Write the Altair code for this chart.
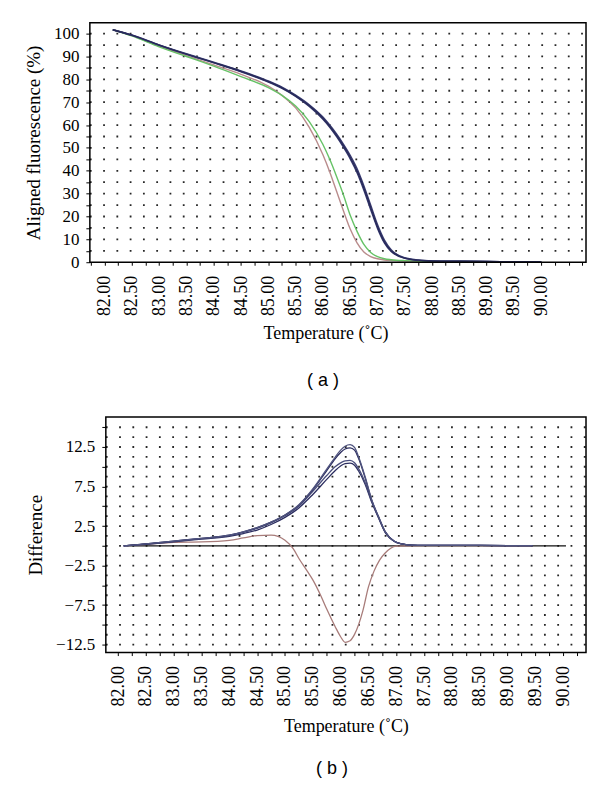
import altair as alt
import pandas as pd

SERIF = "Liberation Serif"
SANS = "Liberation Sans"

# ---------------- Panel (a): aligned melting curves ----------------
temp_a = [82.15, 82.5, 83.0, 83.5, 84.0, 84.5, 85.0, 85.25, 85.5, 85.75, 86.0,
          86.125, 86.25, 86.375, 86.5, 86.625, 86.75, 86.875, 87.0, 87.125,
          87.25, 87.5, 87.75, 88.0, 88.5, 89.0, 89.5, 90.0]

pink_a = [101.7, 99.1, 94.5, 90.3, 86.3, 82.2, 77.0, 73.0, 67.5, 59.0, 47.0,
          39.5, 31.0, 22.5, 14.5, 8.5, 4.5, 2.5, 1.5, 1.0,
          0.8, 0.6, 0.5, 0.4, 0.3, 0.25, 0.2, 0.1]
green_a = [101.7, 99.0, 94.2, 90.0, 85.8, 81.2, 76.4, 73.0, 68.3, 61.5, 51.5,
           45.0, 37.5, 29.5, 20.5, 13.5, 7.8, 4.3, 2.4, 1.5,
           1.1, 0.7, 0.5, 0.4, 0.3, 0.25, 0.2, 0.1]
navy_a1 = [101.7, 99.3, 95.0, 91.0, 87.3, 83.5, 79.0, 76.3, 72.8, 68.5, 63.0,
           59.5, 55.5, 51.0, 46.0, 40.0, 32.5, 24.0, 15.5, 9.0,
           5.0, 1.8, 0.9, 0.6, 0.4, 0.3, 0.2, 0.1]
navy_a2 = [101.7, 99.4, 95.1, 91.2, 87.5, 83.7, 79.3, 76.6, 73.1, 68.9, 63.5,
           60.0, 56.1, 51.7, 46.8, 41.0, 33.5, 25.0, 16.5, 9.8,
           5.5, 2.0, 1.0, 0.6, 0.4, 0.3, 0.2, 0.1]
navy_a3 = [101.7, 99.2, 94.9, 90.9, 87.2, 83.3, 78.8, 76.0, 72.5, 68.1, 62.5,
           59.0, 54.9, 50.3, 45.2, 39.1, 31.5, 23.0, 14.8, 8.5,
           4.7, 1.7, 0.8, 0.5, 0.4, 0.3, 0.2, 0.1]

series_a = [("a1_pink", pink_a), ("a2_green", green_a), ("a3_navy", navy_a3),
            ("a4_navy", navy_a2), ("a5_navy", navy_a1)]
colors_a = ["#b98c8c", "#66c266", "#34376e", "#3b3e74", "#282a5a"]

rows_a = []
for name, vals in series_a:
    for t, v in zip(temp_a, vals):
        rows_a.append({"T": t, "v": v, "s": name})
df_a = pd.DataFrame(rows_a)

# ---------------- Panel (b): difference curves ----------------
temp_b = [82.1, 82.5, 83.0, 83.5, 84.0, 84.25, 84.5, 84.75, 85.0, 85.25, 85.5,
          85.75, 85.9, 86.0, 86.08, 86.17, 86.25, 86.32, 86.44, 86.56, 86.68,
          86.8, 86.97, 87.1, 87.27, 87.5, 88.0, 88.5, 89.0, 89.45]

navy_b1 = [0.0, 0.25, 0.6, 0.95, 1.35, 1.75, 2.3, 3.0, 3.9, 5.2, 7.2,
           9.7, 11.2, 12.1, 12.6, 12.8, 12.45, 11.3, 8.75, 5.8, 3.7,
           1.8, 0.55, 0.25, 0.1, 0.05, 0.05, 0.05, 0.03, 0.02]
navy_b2 = [0.0, 0.25, 0.6, 0.95, 1.35, 1.75, 2.3, 3.0, 3.9, 5.15, 7.1,
           9.5, 11.0, 11.8, 12.25, 12.4, 12.1, 11.1, 8.6, 5.75, 3.7,
           1.8, 0.55, 0.25, 0.1, 0.05, 0.05, 0.05, 0.03, 0.02]
navy_b3 = [0.0, 0.22, 0.55, 0.9, 1.3, 1.7, 2.2, 2.9, 3.8, 5.0, 6.9,
           8.9, 10.0, 10.5, 10.75, 10.8, 10.5, 9.8, 8.0, 5.6, 3.6,
           1.75, 0.55, 0.25, 0.1, 0.05, 0.05, 0.05, 0.03, 0.02]
navy_b4 = [0.0, 0.2, 0.5, 0.85, 1.2, 1.55, 2.0, 2.7, 3.6, 4.8, 6.5,
           8.4, 9.5, 10.1, 10.4, 10.45, 10.2, 9.5, 7.8, 5.5, 3.55,
           1.7, 0.55, 0.25, 0.1, 0.05, 0.05, 0.05, 0.03, 0.02]

temp_brown = [82.1, 82.5, 83.0, 83.5, 84.0, 84.25, 84.5, 84.75, 85.0, 85.15,
              85.25, 85.4, 85.5, 85.65, 85.75, 85.9, 86.0, 86.08, 86.17, 86.25,
              86.4, 86.5, 86.6, 86.7, 86.8, 86.9, 87.0, 87.25, 87.5, 88.0,
              88.5, 89.0, 89.45]
brown_b = [0.0, 0.2, 0.45, 0.5, 0.7, 1.0, 1.3, 1.35, 0.7, -0.4,
           -1.6, -3.2, -4.3, -6.4, -8.0, -10.2, -11.5, -12.2, -12.0, -11.2,
           -8.2, -5.2, -3.2, -1.8, -0.9, -0.3, -0.05, 0.0, 0.02, 0.02,
           0.02, 0.01, 0.0]

temp_base = [82.15, 90.05]
base_b = [0.0, 0.0]

series_b = [("b1_base", temp_base, base_b), ("b2_brown", temp_brown, brown_b),
            ("b3_navy", temp_b, navy_b4), ("b4_navy", temp_b, navy_b3),
            ("b5_navy", temp_b, navy_b2), ("b6_navy", temp_b, navy_b1)]
colors_b = ["#111111", "#a87c7a", "#2c2e60", "#4a4e7c", "#2a2c5e", "#50547f"]

rows_b = []
for name, ts, vals in series_b:
    for t, v in zip(ts, vals):
        rows_b.append({"T": t, "v": v, "s": name})
df_b = pd.DataFrame(rows_b)

# ---------------- ticks / grid values ----------------
ticks_xa = [81.75 + 0.25 * i for i in range(37)]
ticks_xb = [82.0 + 0.25 * i for i in range(34)]
ticks_ya = [5 * i for i in range(21)]
ticks_yb = [-12.5 + 2.5 * i for i in range(12)]
grid_ya = pd.DataFrame({"g": [5 * i for i in range(1, 21)]})
grid_yb = pd.DataFrame({"g": [-12.5 + 1.25 * i for i in range(23)]})
one = pd.DataFrame({"k": [0]})

DOM_XA = [81.73, 90.82]
DOM_YA = [0, 104.8]
DOM_XB = [81.78, 90.41]
DOM_YB = [-13.5, 16.3]

# panel geometry (pixels inside the whole layered view)
W = 497
HA = 240
B_TOP, B_BOT, B_LEFT = 395, 631, 16
H = B_BOT

xa_scale = alt.Scale(domain=DOM_XA, range=[0, W], nice=False, zero=False)
ya_scale = alt.Scale(domain=DOM_YA, range=[HA, 0], nice=False, zero=False)
xb_scale = alt.Scale(domain=DOM_XB, range=[B_LEFT, W], nice=False, zero=False)
yb_scale = alt.Scale(domain=DOM_YB, range=[B_BOT, B_TOP], nice=False, zero=False)

x_label_expr = ("(abs(datum.value * 2 - round(datum.value * 2)) < 0.001 && "
                "datum.value > 81.9 && datum.value < 90.01) ? format(datum.value, '.2f') : ''")

GRID_DASH = [1.8, 11.5]


def x_axis(values, offset, title_pad, title_x=None):
    kw = dict(values=values, orient="bottom", offset=offset, labelExpr=x_label_expr,
              labelAngle=-90, labelFont=SERIF, labelFontSize=18, labelColor="black",
              labelPadding=10, labelOverlap=False, labelFlush=False,
              tickColor="black", tickSize=3, domain=False, grid=False,
              title="Temperature (˚C)", titleFont=SERIF, titleFontSize=18,
              titleFontWeight="normal", titleColor="black", titlePadding=title_pad)
    if title_x is not None:
        kw["titleX"] = title_x
    return alt.Axis(**kw)


def y_axis(values, label_expr, title, offset):
    return alt.Axis(values=values, orient="left", offset=offset, labelExpr=label_expr,
                    labelFont=SERIF, labelFontSize=17, labelColor="black",
                    labelPadding=7, labelOverlap=False, labelFlush=False,
                    tickColor="black", tickSize=4, domain=False, grid=False,
                    title=title, titleFont=SERIF, titleFontSize=19,
                    titleFontWeight="normal", titleColor="black", titlePadding=10)


AXA = x_axis(ticks_xa, HA - H, 9, 236)
AYA = y_axis(ticks_ya, "datum.value % 10 == 0 ? datum.label : ''",
             "Aligned fluorescence (%)", 0)
AXB = x_axis(ticks_xb, 0, 12)
AYB = y_axis(ticks_yb, "abs(datum.value % 5) == 2.5 ? format(datum.value, '.1f') : ''",
             "Difference", -B_LEFT)

# ----- panel (a) layers -----
grid_a = alt.Chart(grid_ya).mark_rule(color="black", strokeWidth=1.8, strokeDash=GRID_DASH,
                                      opacity=0.85).encode(
    y=alt.Y("g:Q", scale=ya_scale, axis=AYA),
    x=alt.datum(DOM_XA[0], scale=xa_scale, axis=AXA), x2=alt.datum(DOM_XA[1]),
)
lines_a = alt.Chart(df_a).mark_line(strokeWidth=1.4, interpolate="monotone").encode(
    x=alt.X("T:Q", scale=xa_scale, axis=AXA),
    y=alt.Y("v:Q", scale=ya_scale, axis=AYA),
    color=alt.Color("s:N", scale=alt.Scale(domain=[s[0] for s in series_a], range=colors_a),
                    legend=None),
    order=alt.Order("T:Q"),
)
frame_a = alt.Chart(one).mark_rect(fillOpacity=0, stroke="black", strokeWidth=1.5).encode(
    x=alt.datum(DOM_XA[0], scale=xa_scale, axis=AXA), x2=alt.datum(DOM_XA[1]),
    y=alt.datum(DOM_YA[0], scale=ya_scale, axis=AYA), y2=alt.datum(DOM_YA[1]),
)
caption_a = alt.Chart(one).mark_text(text="( a )", font=SANS, fontSize=18, color="black").encode(
    x=alt.datum(86.0, scale=xa_scale, axis=AXA), y=alt.datum(-52, scale=ya_scale, axis=AYA),
)
panel_a = alt.layer(grid_a, lines_a, frame_a, caption_a)

# ----- panel (b) layers -----
grid_b = alt.Chart(grid_yb).mark_rule(color="black", strokeWidth=1.8, strokeDash=GRID_DASH,
                                      opacity=0.85).encode(
    y=alt.Y("g:Q", scale=yb_scale, axis=AYB),
    x=alt.datum(DOM_XB[0], scale=xb_scale, axis=AXB), x2=alt.datum(DOM_XB[1]),
)
lines_b = alt.Chart(df_b).mark_line(strokeWidth=1.3, interpolate="monotone").encode(
    x=alt.X("T:Q", scale=xb_scale, axis=AXB),
    y=alt.Y("v:Q", scale=yb_scale, axis=AYB),
    color=alt.Color("s:N", scale=alt.Scale(domain=[s[0] for s in series_b], range=colors_b),
                    legend=None),
    order=alt.Order("T:Q"),
)
frame_b = alt.Chart(one).mark_rect(fillOpacity=0, stroke="black", strokeWidth=1.5).encode(
    x=alt.datum(DOM_XB[0], scale=xb_scale, axis=AXB), x2=alt.datum(DOM_XB[1]),
    y=alt.datum(DOM_YB[0], scale=yb_scale, axis=AYB), y2=alt.datum(DOM_YB[1]),
)
panel_b = alt.layer(grid_b, lines_b, frame_b)

chart = alt.layer(panel_a, panel_b).resolve_scale(
    x="independent", y="independent", color="independent"
).properties(
    width=W, height=H,
    padding={"left": 16, "top": 13, "right": 0, "bottom": 0},
    background="white",
    title=alt.TitleParams("( b )", orient="bottom", font=SANS, fontSize=18,
                          fontWeight="normal", color="black", offset=24, dx=-6,
                          frame="group", anchor="middle"),
).configure_view(stroke=None)

chart.save("out.html", embed_options={"renderer": "svg", "actions": False})
